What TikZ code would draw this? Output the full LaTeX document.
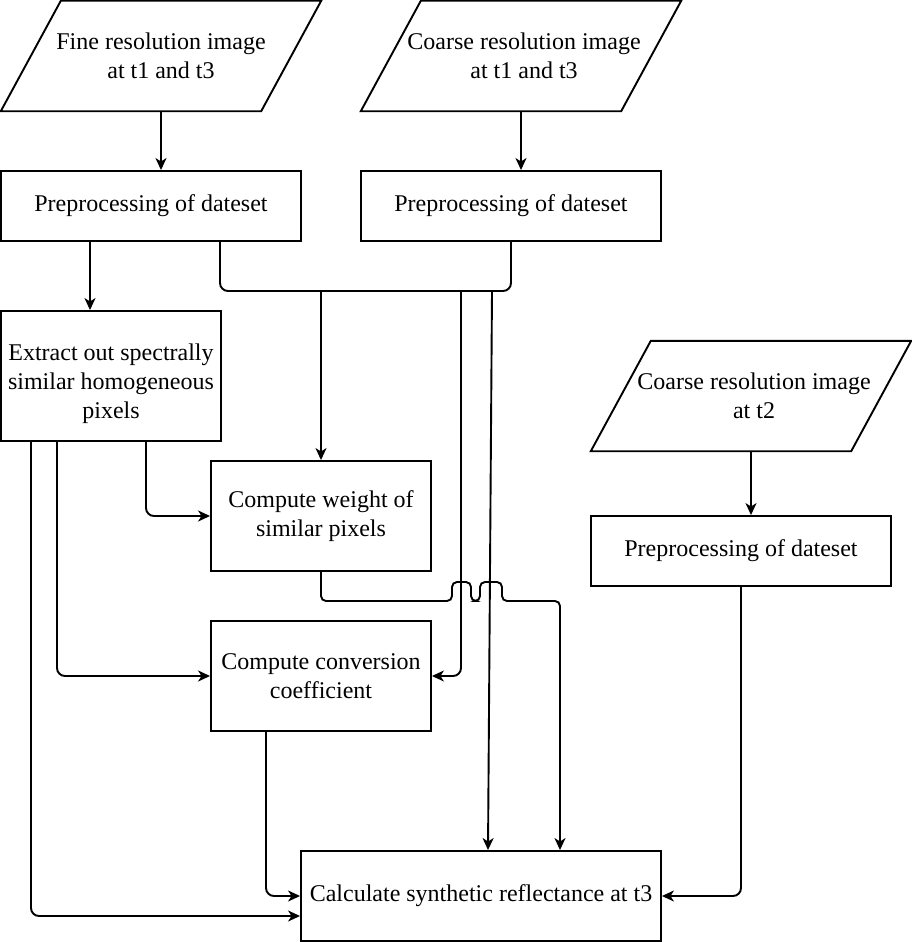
\documentclass[tikz,border=0pt]{standalone}
\usepackage{fontspec}
\setmainfont{Liberation Serif}
\usetikzlibrary{arrows.meta}
\begin{document}
\begin{tikzpicture}[x=1pt,y=-1pt,
  every node/.style={font=\fontsize{24}{28.8}\selectfont, align=center, inner sep=0pt},
  procbox/.style={draw, line width=1.9pt, minimum width=#1, rectangle},
  iobox/.style={minimum width=320pt, minimum height=110pt},
  conn/.style={line width=1.9pt, rounded corners=8pt},
  arr/.style={conn, -{Stealth[length=12pt,width=11pt,inset=3.5pt]}}
]
\useasboundingbox (0,0) rectangle (912,942);

% input parallelograms (text nodes, outline drawn below)
\node[iobox] (p1) at (161,56) {Fine resolution image\\at t1 and t3};
\node[iobox] (p2) at (521,56) {};
\node at (524,56) {Coarse resolution image\\at t1 and t3};
\node[iobox] (p3) at (751,396) {};
\node at (754,396) {Coarse resolution image\\at t2};
\foreach \n in {p1,p2,p3}{
  \draw[line width=1.9pt, line join=miter]
    ([xshift=60pt]\n.north west) -- (\n.north east) -- ([xshift=-60pt]\n.south east) -- (\n.south west) -- cycle;
}

% process boxes
\node[procbox=300pt, minimum height=70pt] (b1) at (151,206) {Preprocessing of dateset};
\node[procbox=300pt, minimum height=70pt] (b2) at (511,206) {Preprocessing of dateset};
\node[procbox=300pt, minimum height=70pt] (b3) at (741,551) {Preprocessing of dateset};
\node[procbox=220pt, minimum height=130pt] (ex) at (111,376) {};
\node at (111,384) {Extract out spectrally\\similar homogeneous\\pixels};
\node[procbox=220pt, minimum height=110pt] (cw) at (321,516) {Compute weight of\\similar pixels};
\node[procbox=220pt, minimum height=110pt] (cc) at (321,676) {Compute conversion\\coefficient};
\node[procbox=360pt, minimum height=90pt] (cs) at (481,896) {Calculate synthetic reflectance at t3};

% junction coordinates
\coordinate (j) at (321,291);
\coordinate (ja) at (461,291);
\coordinate (jb) at (492,291);

% connectors
\draw[arr] (p1.south) -- (p1.south |- b1.north);
\draw[arr] (p2.south) -- (p2.south |- b2.north);
\draw[arr] (p3.south) -- (p3.south |- b3.north);
\draw[arr] ([xshift=-61pt]b1.south) -- ([xshift=-61pt]b1.south |- ex.north);

\draw[conn] ([xshift=69pt]b1.south) |- (j) -| (b2.south);
\draw[arr] (j) -- (cw.north);
\draw[arr] (ja) |- (cc.east);
\draw[arr] (jb) -- ([xshift=7pt]cs.north);

\draw[arr, rounded corners=5pt] (cw.south) -- (321,601) -- (452,601) -- (452,582) -- (471,582) -- (471,601)
  -- (480,601) -- (480,582) -- (502,582) -- (502,601) -- (560,601) -- ([xshift=79pt]cs.north);

\draw[arr] ([xshift=35pt]ex.south) |- (cw.west);
\draw[arr] ([xshift=-54pt]ex.south) |- (cc.west);
\draw[arr] ([xshift=-80pt]ex.south) |- ([yshift=-20pt]cs.west);
\draw[arr] ([xshift=-55pt]cc.south) |- (cs.west);
\draw[arr] (b3.south) |- (cs.east);
\end{tikzpicture}
\end{document}
